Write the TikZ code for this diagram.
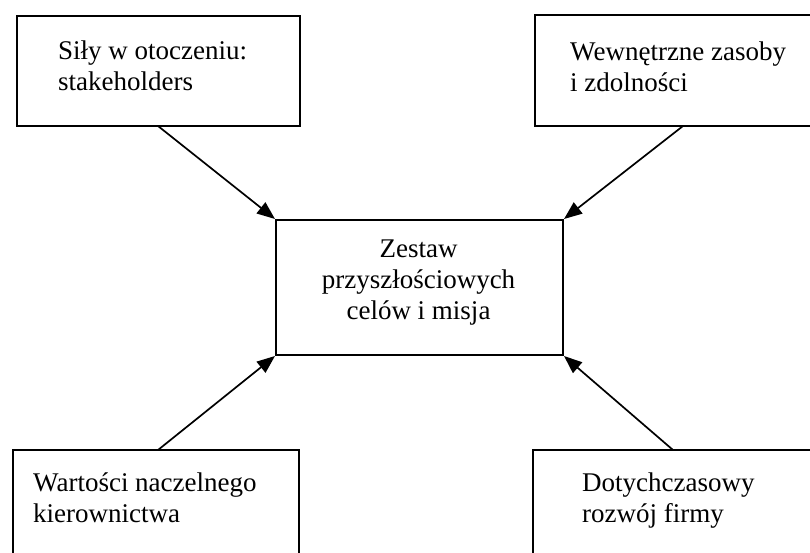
\documentclass[tikz,border=0pt]{standalone}
\usepackage{fontspec}
\setmainfont{Liberation Serif}
\usetikzlibrary{arrows.meta}

\begin{document}
\begin{tikzpicture}[x=1pt, y=-1pt,
  frame/.style={draw=black, line width=2pt, fill=none, inner sep=0pt},
  label/.style={inner sep=0pt, font=\fontsize{27}{31}\selectfont},
  link/.style={line width=1.7pt, -{Triangle[length=18pt, width=14pt]}}]

  % page area
  \clip (0,0) rectangle (810,553);
  \fill[white] (0,0) rectangle (810,553);

  % outer boxes (the right-hand and lower ones run off the page edge)
  \draw[frame] (17,16) rectangle (300,126);
  \draw[frame] (535,15) rectangle (830,126);
  \draw[frame] (13,450) rectangle (299,580);
  \draw[frame] (533,450) rectangle (830,580);

  % central box
  \node[frame, anchor=north west, minimum width=287pt, minimum height=135pt] (goal) at (275,219) {};

  % texts (anchored at the baseline of their last line)
  \node[label, anchor=base west, align=left] (env) at (58,90.5) {Siły w otoczeniu:\\stakeholders};
  \node[label, anchor=base west, align=left] (res) at (570,92) {Wewnętrzne zasoby\\i zdolności};
  \node[label, anchor=base, align=center] (mission) at (418.5,319) {Zestaw\\przyszłościowych\\celów i misja};
  \node[label, anchor=base west, align=left] (vals) at (33,522) {Wartości naczelnego\\kierownictwa};
  \node[label, anchor=base west, align=left] (hist) at (582,522) {Dotychczasowy\\rozwój firmy};

  % connector start points on the outer boxes
  \coordinate (envout) at (158,126);
  \coordinate (resout) at (683,126);
  \coordinate (valsout) at (158,450);
  \coordinate (histout) at (673,450);

  % connectors into the corners of the central box
  \draw[link] (envout) -- (goal.north west);
  \draw[link] (resout) -- (goal.north east);
  \draw[link] (valsout) -- (goal.south west);
  \draw[link] (histout) -- (goal.south east);
\end{tikzpicture}
\end{document}
